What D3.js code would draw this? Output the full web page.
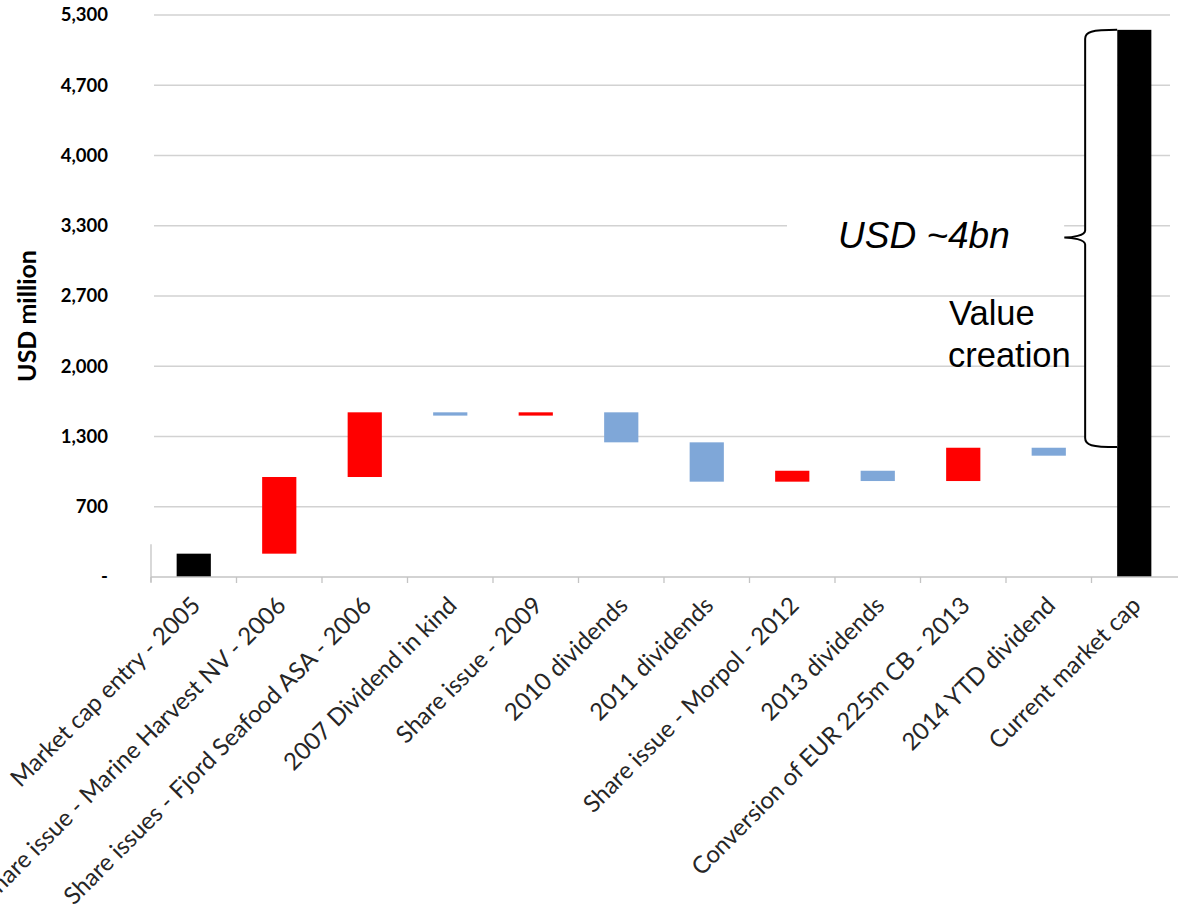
<!DOCTYPE html>
<html>
<head>
<meta charset="utf-8">
<script src="https://cdn.jsdelivr.net/npm/d3@7/dist/d3.min.js"></script>
<style>
  html, body { margin: 0; padding: 0; background: #fff; }
  svg { display: block; }
</style>
</head>
<body>
<svg id="chart" width="1178" height="913"></svg>
<script>
// Waterfall steps, USD million
const categories = [
  "Market cap entry - 2005",
  "Share issue - Marine Harvest NV - 2006",
  "Share issues - Fjord Seafood ASA - 2006",
  "2007 Dividend in kind",
  "Share issue - 2009",
  "2010 dividends",
  "2011 dividends",
  "Share issue - Morpol - 2012",
  "2013 dividends",
  "Conversion of EUR 225m CB - 2013",
  "2014 YTD dividend",
  "Current market cap"
];
// Totals are absolute values; the other steps are changes from the running total
const changes = [220, 723, 610, -31, 31, -283, -371, 103, -97, 314, -75, 5160];
const kinds = ["total", "up", "up", "down", "up", "down", "down", "up", "down", "up", "down", "total"];

const yTickValues = [0, 662.5, 1325, 1987.5, 2650, 3312.5, 3975, 4637.5, 5300];
const yTickLabels = ["-", "700", "1,300", "2,000", "2,700", "3,300", "4,000", "4,700", "5,300"];

// Lower end of the "value creation" brace, USD million
const braceLow = 1225;

const kindColor = { total: "#000000", up: "#ff0000", down: "#7fa7d8" };

const svg = d3.select("#chart");
const W = 1178, H = 913;
svg.append("rect").attr("width", W).attr("height", H).attr("fill", "#fff");

const plotLeft = 151, plotRight = 1177, plotTop = 15, plotBottom = 577;

const x = d3.scaleBand().domain(categories).range([plotLeft, plotRight]).padding(0);
const y = d3.scaleLinear().domain([0, 5300]).range([plotBottom, plotTop]);

// Build the floating segments
let running = 0;
const steps = categories.map((c, i) => {
  let lo, hi;
  if (kinds[i] === "total") {
    lo = 0; hi = changes[i];
    running = changes[i];
  } else {
    const start = running, end = running + changes[i];
    lo = Math.min(start, end); hi = Math.max(start, end);
    running = end;
  }
  return { cat: c, lo, hi, kind: kinds[i] };
});

// Gridlines
svg.append("g")
  .selectAll("line")
  .data(yTickValues.filter(v => v > 0))
  .join("line")
  .attr("x1", plotLeft + 3)
  .attr("x2", 1170)
  .attr("y1", d => y(d))
  .attr("y2", d => y(d))
  .attr("stroke", "#d2d2d2")
  .attr("stroke-width", 1.6);

// Y axis labels
const yAxis = d3.axisLeft(y)
  .tickValues(yTickValues)
  .tickFormat((d, i) => yTickLabels[i])
  .tickSize(0)
  .tickPadding(43);
const yg = svg.append("g").attr("transform", `translate(${plotLeft},0)`).call(yAxis);
yg.select(".domain").remove();
yg.selectAll("text")
  .attr("font-family", "Lato, 'Open Sans', sans-serif")
  .attr("font-weight", "bold")
  .attr("font-size", 18.5)
  .attr("fill", "#000");

// Short vertical axis stub near the baseline
svg.append("line")
  .attr("x1", plotLeft).attr("x2", plotLeft)
  .attr("y1", y(310)).attr("y2", plotBottom + 5)
  .attr("stroke", "#c4c4c4").attr("stroke-width", 1.3);

// Y axis title
svg.append("text")
  .attr("transform", `translate(26,${316}) rotate(-90)`)
  .attr("text-anchor", "middle")
  .attr("dominant-baseline", "central")
  .attr("font-family", "Lato, 'Open Sans', sans-serif")
  .attr("font-weight", "bold")
  .attr("font-size", 25)
  .attr("fill", "#000")
  .text("USD million");

// Bars
const barW = x.bandwidth() * 0.4;
svg.append("g")
  .selectAll("rect")
  .data(steps)
  .join("rect")
  .attr("x", d => x(d.cat) + (x.bandwidth() - barW) / 2)
  .attr("width", barW)
  .attr("y", d => y(d.hi))
  .attr("height", d => Math.max(2, y(d.lo) - y(d.hi)))
  .attr("fill", d => kindColor[d.kind]);

// X axis baseline and ticks
const xg = svg.append("g");
xg.append("line")
  .attr("x1", plotLeft).attr("x2", W)
  .attr("y1", plotBottom).attr("y2", plotBottom)
  .attr("stroke", "#c4c4c4").attr("stroke-width", 1.6);
xg.selectAll("line.tick")
  .data(categories)
  .join("line")
  .attr("class", "tick")
  .attr("x1", d => x(d)).attr("x2", d => x(d))
  .attr("y1", plotBottom).attr("y2", plotBottom + 6)
  .attr("stroke", "#c4c4c4").attr("stroke-width", 1.3);

// Category labels, rotated
xg.selectAll("text")
  .data(categories)
  .join("text")
  .attr("transform", d => `translate(${x(d) + x.bandwidth() / 2 + 8},${plotBottom + 30}) rotate(-45)`)
  .attr("text-anchor", "end")
  .attr("font-family", "Lato, 'Open Sans', sans-serif")
  .attr("font-size", 24)
  .attr("fill", "#262626")
  .text(d => d);

// Value-creation brace along the last bar
const last = steps[steps.length - 1];
const bx = x(last.cat) + (x.bandwidth() - barW) / 2;
const spine = bx - 32, tip = bx - 53;
const yTop = y(last.hi), yBot = y(braceLow), yMid = (yTop + yBot) / 2 - 1;
const bracePath = [
  `M${bx},${yTop}`,
  `C${spine + 6},${yTop} ${spine},${yTop + 2} ${spine},${yTop + 9}`,
  `L${spine},${yMid - 7}`,
  `C${spine},${yMid - 2} ${tip + 8},${yMid} ${tip},${yMid}`,
  `C${tip + 8},${yMid} ${spine},${yMid + 2} ${spine},${yMid + 7}`,
  `L${spine},${yBot - 9}`,
  `C${spine},${yBot - 2} ${spine + 6},${yBot} ${bx},${yBot}`
].join(" ");
svg.append("path")
  .attr("d", bracePath + ` L${bx},${yTop} Z`)
  .attr("fill", "#fff")
  .attr("stroke", "none");
svg.append("path")
  .attr("d", bracePath)
  .attr("fill", "none")
  .attr("stroke", "#000")
  .attr("stroke-width", 2);

// Annotation texts
svg.append("rect")
  .attr("x", 787).attr("y", 206)
  .attr("width", tip - 787).attr("height", 58)
  .attr("fill", "#fff");
svg.append("text")
  .attr("x", 838).attr("y", 248)
  .attr("font-family", "'Liberation Sans', Arial, sans-serif")
  .attr("font-style", "italic")
  .attr("font-size", 37)
  .attr("fill", "#000")
  .text("USD ~4bn");

const vc = svg.append("text")
  .attr("font-family", "'Liberation Sans', Arial, sans-serif")
  .attr("font-size", 34.5)
  .attr("fill", "#000");
vc.append("tspan").attr("x", 949).attr("y", 325).text("Value");
vc.append("tspan").attr("x", 948).attr("y", 367).text("creation");
</script>
</body>
</html>
